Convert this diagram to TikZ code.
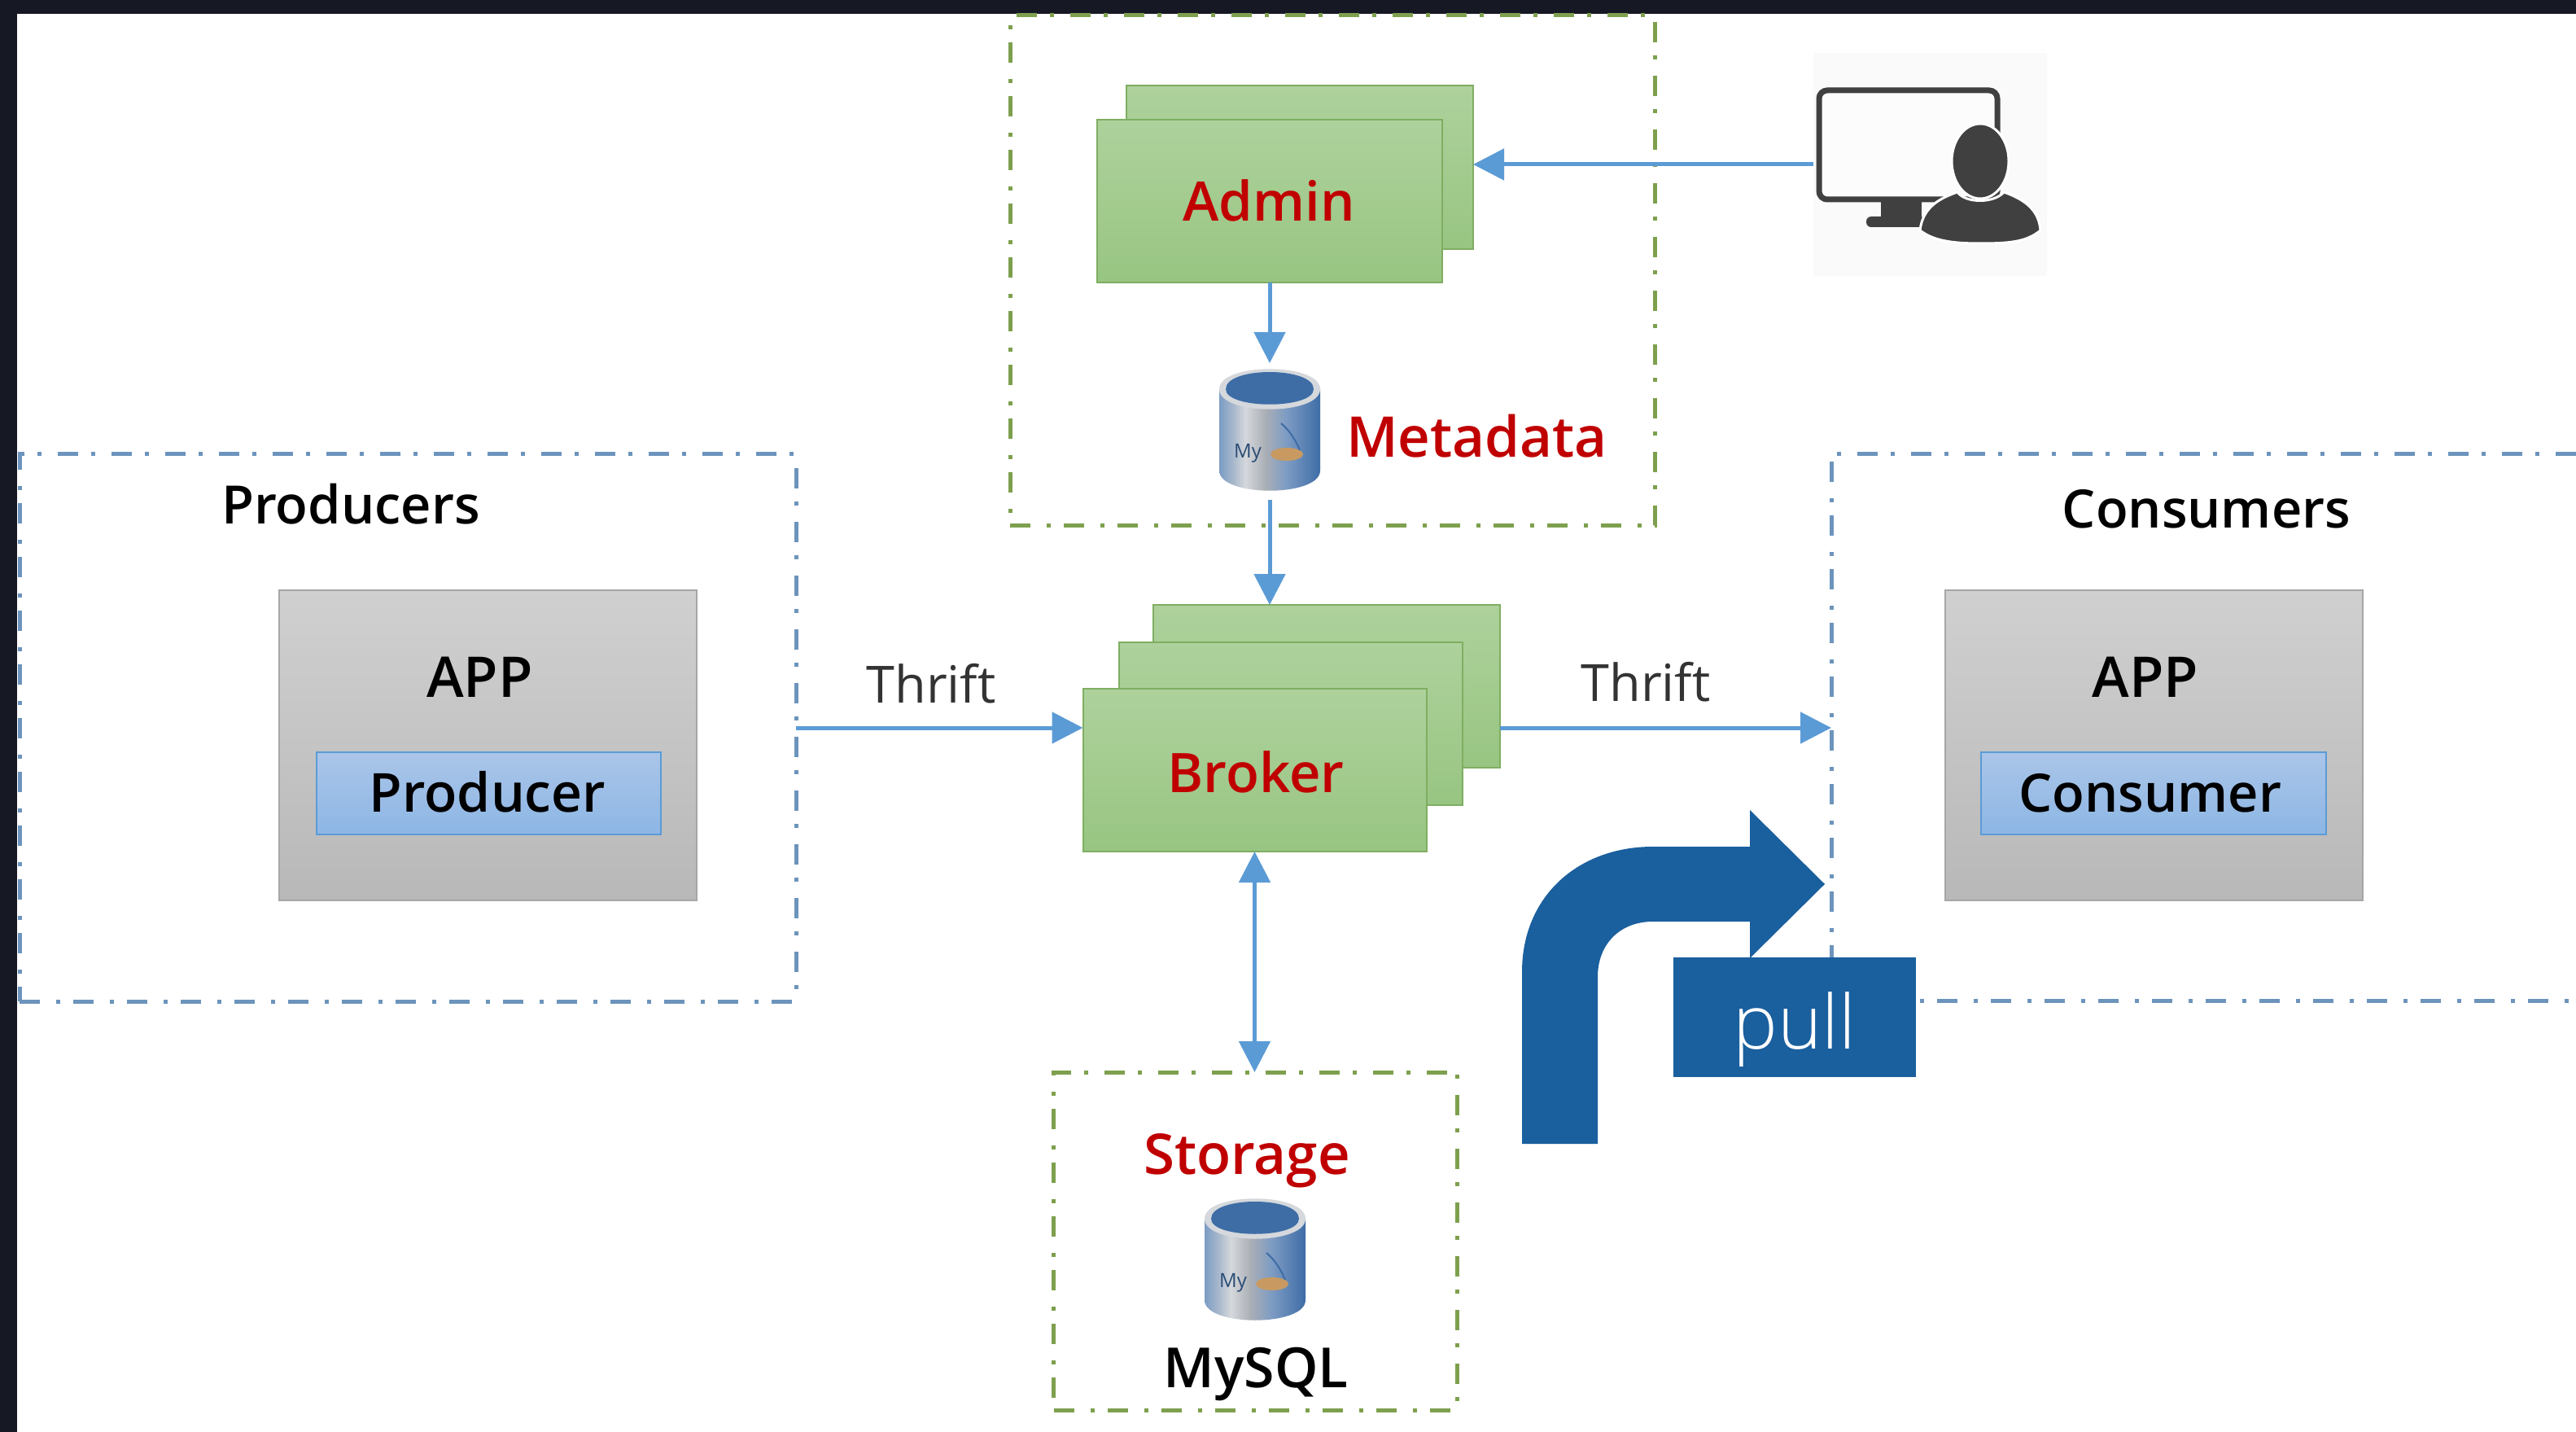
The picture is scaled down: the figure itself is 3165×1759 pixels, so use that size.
\documentclass[tikz,border=0pt]{standalone}
\usepackage{fontspec}
\setmainfont{Open Sans}
\newfontfamily\medf{Open Sans Semibold}
\newfontfamily\lightf{Open Sans Light}
\usetikzlibrary{arrows.meta,calc}
\definecolor{darkbar}{HTML}{161824}
\definecolor{flowblue}{HTML}{5B9BD5}
\definecolor{dashblue}{HTML}{6C94BC}
\definecolor{dashgreen}{HTML}{7EA04E}
\definecolor{redtxt}{HTML}{C00000}
\definecolor{pullblue}{HTML}{1A5F9E}
\definecolor{icon}{HTML}{404040}
\definecolor{greentop}{HTML}{AED19C}
\definecolor{greenbot}{HTML}{98C582}
\definecolor{greenline}{HTML}{7FAE62}
\definecolor{graytop}{HTML}{D0D0D0}
\definecolor{graybot}{HTML}{B8B8B8}
\definecolor{grayline}{HTML}{A6A6A6}
\definecolor{bluetop}{HTML}{AAC5E8}
\definecolor{bluebot}{HTML}{8DB6E5}
\definecolor{sqlorange}{HTML}{C89A62}
\definecolor{cyA}{HTML}{7B9CC4}
\definecolor{cyB}{HTML}{A8B8CC}
\definecolor{cyC}{HTML}{D5D8DC}
\definecolor{cyD}{HTML}{A9AEB5}
\definecolor{cyE}{HTML}{7E9CC4}
\definecolor{cyF}{HTML}{3E6DA6}
\pgfdeclarehorizontalshading{cylshade}{100bp}{
 color(0bp)=(cyA); color(25bp)=(cyA); color(32bp)=(cyB); color(38bp)=(cyC);
 color(48bp)=(cyD); color(58bp)=(cyE); color(75bp)=(cyF); color(100bp)=(cyF)}
\tikzset{
 x=0.5pt,y=-0.5pt,
 plainbox/.style={rectangle,inner sep=0pt,outer sep=0pt},
 greenbox/.style={plainbox,draw=greenline,line width=1pt,top color=greentop,bottom color=greenbot},
 graybox/.style={plainbox,draw=grayline,line width=1pt,top color=graytop,bottom color=graybot},
 bluebox/.style={plainbox,draw=flowblue,line width=1pt,top color=bluetop,bottom color=bluebot},
 bluegroup/.style={draw=dashblue,line width=2.5pt,dash pattern=on 12.5pt off 10pt on 2.5pt off 8pt},
 greengroup/.style={draw=dashgreen,line width=2.5pt,dash pattern=on 12.5pt off 10pt on 2.5pt off 8pt},
 flow/.style={draw=flowblue,line width=2.5pt,-{Triangle[length=19pt,width=19pt]}},
 bothflow/.style={draw=flowblue,line width=2.5pt,{Triangle[length=19pt,width=19pt]}-{Triangle[length=19pt,width=19pt]}},
 txtlabel/.style={anchor=base,inner sep=0pt,outer sep=0pt},
 blacktxt/.style={txtlabel,text=black,font=\medf\fontsize{34.5}{40}\selectfont},
 redtext/.style={txtlabel,text=redtxt,font=\medf\fontsize{33.5}{40}\selectfont},
 thintext/.style={txtlabel,text=black!80,font=\fontsize{31.5}{38}\selectfont},
 mysqldb/.pic={
  \shade[shading=cylshade] (-62,25) -- (-62,125) .. controls (-62,158) and (62,158) .. (62,125) -- (62,25) -- cycle;
  \fill[cyC] (-62,25) .. controls (-62,-8) and (62,-8) .. (62,25) .. controls (62,58) and (-62,58) .. (-62,25) -- cycle;
  \fill[cyF] (-54,25) .. controls (-54,-3) and (54,-3) .. (54,25) .. controls (54,50) and (-54,50) .. (-54,25) -- cycle;
  \fill[sqlorange] (21,105) ellipse [x radius=20,y radius=8];
  \draw[cyF,line width=1pt] (14,67) .. controls (24,75) and (32,88) .. (37,100);
  \node[inner sep=0pt,text=cyF!70!black,font=\fontsize{12}{14}\selectfont] (-my) at (-27,104) {My};
  \coordinate (-top) at (0,-7);
  \coordinate (-bottom) at (0,161);
 }
}
\begin{document}
\begin{tikzpicture}
\useasboundingbox (0,0) rectangle (3165,1759);
\fill[white] (0,0) rectangle (3165,1759);
\fill[darkbar] (0,0) rectangle (3165,17);
\fill[darkbar] (0,0) rectangle (21,1759);

% group frames
\node[plainbox,greengroup,minimum width=396pt,minimum height=313.5pt] (metaGroup) at (1637,332.5) {};
\node[plainbox,bluegroup,minimum width=477pt,minimum height=336pt] (producers) at (501,894) {};
\node[plainbox,greengroup,minimum width=248pt,minimum height=207.5pt] (storage) at (1542.5,1524.5) {};
\coordinate (consumersW) at (2250,894);
\draw[bluegroup] (3165,558) -- (2250,558) -- (2250,1229) -- (3165,1229);

% Admin
\node[greenbox,minimum width=213pt,minimum height=100.5pt] (adminBack) at (1597,205.5) {};
\node[greenbox,minimum width=212pt,minimum height=100pt] (adminFront) at (1560,247) {};
\node[redtext] (adminTxt) at (1559,272) {Admin};
\pic (dbone) at (1560,453) {mysqldb};
\node[redtext,font=\medf\fontsize{34.5}{40}\selectfont] (metaTxt) at (1814.5,562) {Metadata};

% Broker
\node[greenbox,minimum width=213pt,minimum height=100pt] (brokerBack) at (1630,843) {};
\node[greenbox,minimum width=211pt,minimum height=100pt] (brokerMid) at (1586,889) {};
\node[greenbox,minimum width=211pt,minimum height=100pt] (brokerFront) at (1541.5,946) {};
\node[redtext] (brokerTxt) at (1543,973) {Broker};

% Producer side
\node[graybox,minimum width=256.5pt,minimum height=190.5pt] (appP) at (599.5,915.5) {};
\node[blacktxt] (appPTxt) at (589.5,856) {APP};
\node[bluebox,minimum width=211.5pt,minimum height=50.5pt] (prod) at (600.5,974.5) {};
\node[blacktxt,font=\medf\fontsize{33}{40}\selectfont] (prodTxt) at (599,997) {Producer};
\node[blacktxt,font=\medf\fontsize{32.5}{40}\selectfont] (prodsTxt) at (431,644) {Producers};

% Consumer side
\node[graybox,minimum width=256.5pt,minimum height=190.5pt] (appC) at (2646.5,915.5) {};
\node[blacktxt] (appCTxt) at (2636,856) {APP};
\node[bluebox,minimum width=212pt,minimum height=50.5pt] (cons) at (2646,974.5) {};
\node[blacktxt,font=\medf\fontsize{32.5}{40}\selectfont] (consTxt) at (2642,997) {Consumer};
\node[blacktxt,font=\medf\fontsize{32.5}{40}\selectfont] (conssTxt) at (2711,648) {Consumers};

% Storage contents
\node[redtext,font=\medf\fontsize{34.5}{40}\selectfont] (storageTxt) at (1532,1442) {Storage};
\pic (dbtwo) at (1542,1472) {mysqldb};
\node[blacktxt,font=\medf\fontsize{34}{40}\selectfont] (mysqlTxt) at (1543,1704) {MySQL};

% user icon
\node[plainbox,fill=black!2,minimum width=143.5pt,minimum height=137pt] (userBg) at (2371,202) {};
\draw[icon,line width=3.5pt,fill=black!1,rounded corners=5pt] (2235,111) rectangle (2454,245);
\fill[icon] (2311,245) rectangle (2361,270);
\fill[icon,rounded corners=3pt] (2293,266) rectangle (2365,279);
\filldraw[fill=icon,draw=white,line width=1.5pt] (2359,283) .. controls (2362,258) and (2378,245) .. (2405,236) .. controls (2415,250) and (2450,250) .. (2462,236) .. controls (2488,245) and (2505,258) .. (2507,283) .. controls (2490,297) and (2470,299) .. (2433,299) .. controls (2395,299) and (2375,295) .. (2359,283) -- cycle;
\filldraw[fill=icon,draw=white,line width=1.5pt] (2433,198) ellipse [x radius=35,y radius=46];

% connectors
\draw[flow] (userBg.west) -- (userBg.west -| adminBack.east);
\draw[flow] (adminFront.south) -- (dbone-top);
\draw[flow] (dbone-bottom) -- (dbone-bottom |- brokerBack.north);
\draw[flow] (producers.east) -- (producers.east -| brokerFront.west);
\draw[flow] (consumersW -| brokerBack.east) -- (consumersW);
\draw[bothflow] (brokerFront.south) -- (brokerFront.south |- storage.north);
\node[thintext] (thriftL) at (1144,863) {Thrift};
\node[thintext] (thriftR) at (2022,861) {Thrift};

% pull arrow
\fill[pullblue] (1870,1405) -- (1870,1194) .. controls (1870,1100) and (1940,1040) .. (2031,1040) -- (2150,1040) -- (2150,995) -- (2242,1086) -- (2150,1177) -- (2150,1132) -- (2031,1132) .. controls (1990,1132) and (1963,1160) .. (1963,1200) -- (1963,1405) -- cycle;
\node[plainbox,fill=pullblue,minimum width=149pt,minimum height=73.5pt] (pullBox) at (2205,1249.5) {};
\node[txtlabel,text=white,font=\lightf\fontsize{46}{50}\selectfont] (pullTxt) at (2205,1288) {pull};
\end{tikzpicture}
\end{document}
